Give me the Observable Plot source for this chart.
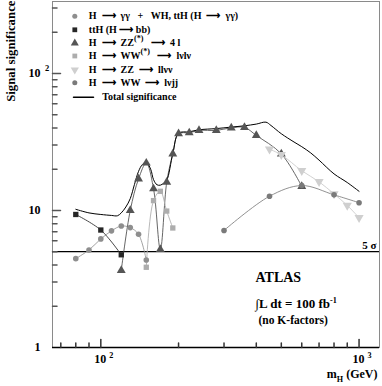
<!DOCTYPE html>
<html><head><meta charset="utf-8">
<script src="https://cdn.jsdelivr.net/npm/d3@7"></script>
<script src="https://cdn.jsdelivr.net/npm/@observablehq/plot@0.6"></script>
<style>body{margin:0;background:#fff} svg{font-family:"Liberation Serif","Times New Roman",serif;font-weight:bold} svg text{white-space:pre}</style>
</head><body><div id="chart"></div>
<script>
// ---- data (mass in GeV, signal significance) ----
const ggMass=[80,90,100,110,120,130,140,150];
const ggSig=[4.45,5.15,6.2,7.1,7.7,7.5,6.7,4.35];
const bbMass=[80,100,120];
const bbSig=[9.35,7.2,4.75];
const zz4lMass=[120,130,140,150,160,170,180,190,200,220,240,280,320,360,400,500,600];
const zz4lSig=[3.65,10,17,22.2,14.4,5.2,16.1,25.9,36.3,36.9,38.4,38.4,40.1,40.4,35.3,25.9,15];
const wwlvlvMass=[150,160,170,180,190];
const wwlvlvSig=[3.85,11.8,13.8,9.9,7.45];
const zzllvvMass=[450,500,600,700,800,900,1000];
const zzllvvSig=[28,25.5,19.5,16.2,13.2,10.9,8.85];
const wwlvjjMass=[300,450,600,800,1000];
const wwlvjjSig=[7.15,12.7,15.2,13,11.4];
const totalMass=[80,90,100,110,116,120,125,130,135,140,145,150,156,160,165,170,175,180,190,200,220,240,280,320,360,400,436,456,500,560,600,650,700,800,900,1000];
const totalSig=[10.2,9.6,9.35,9.2,9.15,9.6,10.6,12.2,15.5,19.3,21.7,22.5,20,16.8,15.4,15.3,15.8,16.6,26,36.6,37.5,38.8,39.6,40.6,41.5,42.7,44.1,41.7,36.3,31.6,29.2,26.3,23.3,18.5,16,13.8];

const seriesNames=["H  ⟶  γγ   +   WH, ttH (H  ⟶  γγ)","ttH (H ⟶ bb)","H  ⟶  ZZ^{(*)}   ⟶  4 l","H  ⟶  WW^{(*)}   ⟶  lνlν","H  ⟶  ZZ  ⟶  llνν","H  ⟶  WW  ⟶  lνjj"];
const totalName="Total significance";
const discoveryLevel=5;
const discoveryLabel="5 σ";
const atlasLabels=["ATLAS","∫L dt = 100 fb^{-1}","(no K-factors)"];
const xDomain=[65,1200];
const yDomain=[1,335];
const xMajor=[100,1000];
const xMajorLabels=["10 ^{2}","10 ^{3}"];
const xMinor=[70,80,90,200,300,400,500,600,700,800,900];
const yMajor=[1,10,100];
const yMajorLabels=["1","10","10"];
const ySuper=[{v:100,s:"2"}];
const yMinor=[2,3,4,5,6,7,8,9,20,30,40,50,60,70,80,90,200,300];
const xTitle="m_{H} (GeV)";
const yTitle="Signal significance";

// ---- styling ----
const triDown={draw(c,size){const y=-Math.sqrt(size/(Math.sqrt(3)*3));c.moveTo(0,-y*2);c.lineTo(-Math.sqrt(3)*y,y);c.lineTo(Math.sqrt(3)*y,y);c.closePath();}};
const tickShape={draw(c,l){c.moveTo(0,0);c.lineTo(0,-l);}};
const massArr=[ggMass,bbMass,zz4lMass,wwlvlvMass,zzllvvMass,wwlvjjMass];
const sigArr=[ggSig,bbSig,zz4lSig,wwlvlvSig,zzllvvSig,wwlvjjSig];
const symbols=["circle","square","triangle","square",triDown,"circle"];
const fills=["#8e8e8e","#262626","#555555","#adadad","#cfcfcf","#7a7a7a"];
const strokes=["#999999","#333333","#555555","#b0b0b0","#cccccc","#858585"];
const radii=[2.8,3.0,3.3,3.0,3.4,2.8];

const series=seriesNames.map((name,i)=>massArr[i].map((m,j)=>({name,mass:m,sig:sigArr[i][j]})));
const total=totalMass.map((m,j)=>({mass:m,sig:totalSig[j]}));

const marks=[
  Plot.frame({stroke:"#8a8a8a"}),
  Plot.ruleY([yDomain[0]],{stroke:"#000",strokeWidth:1.5}),
  Plot.ruleY([discoveryLevel],{stroke:"#000",strokeWidth:1.3}),
  Plot.vector(xMajor,{x:d=>d,frameAnchor:"bottom",length:8,anchor:"start",shape:tickShape,stroke:"#333"}),
  Plot.vector(xMinor,{x:d=>d,frameAnchor:"bottom",length:4.5,anchor:"start",shape:tickShape,stroke:"#333"}),
  Plot.vector(yMajor.slice(1),{y:d=>d,frameAnchor:"left",rotate:90,length:8,anchor:"start",shape:tickShape,stroke:"#555"}),
  Plot.vector(yMinor,{y:d=>d,frameAnchor:"left",rotate:90,length:4.5,anchor:"start",shape:tickShape,stroke:"#555"}),
];
series.forEach((s,i)=>{
  marks.push(Plot.line(s,{x:"mass",y:"sig",stroke:strokes[i],strokeWidth:0.9,curve:"catmull-rom"}));
});
marks.push(Plot.line(total,{x:"mass",y:"sig",stroke:"#000",strokeWidth:1,curve:"catmull-rom"}));
series.forEach((s,i)=>{
  marks.push(Plot.dot(s,{x:"mass",y:"sig",symbol:symbols[i],fill:fills[i],stroke:"none",r:radii[i]}));
});
// legend
const legendRows=[14.7,28.3,41.7,54.5,68.3,81.3,95.7];
seriesNames.forEach((name,i)=>{
  marks.push(Plot.dot([name],{frameAnchor:"top-left",dx:22.3,dy:legendRows[i],symbol:symbols[i],fill:fills[i],stroke:"none",r:radii[i]*0.9}));
  marks.push(Plot.text([name],{frameAnchor:"top-left",dx:36.3,dy:legendRows[i],text:d=>d,textAnchor:"start",lineAnchor:"middle",fontSize:10,fontWeight:"bold",fill:"#000"}));
});
marks.push(Plot.vector([totalName],{frameAnchor:"top-left",dx:21,dy:legendRows[6],rotate:90,length:20,anchor:"start",shape:tickShape,stroke:"#000"}));
marks.push(Plot.text([totalName],{frameAnchor:"top-left",dx:49.7,dy:legendRows[6],text:d=>d,textAnchor:"start",lineAnchor:"middle",fontSize:10,fontWeight:"bold"}));
// annotations
marks.push(Plot.text([discoveryLabel],{y:discoveryLevel,frameAnchor:"right",dx:-3,dy:-6,text:d=>d,textAnchor:"end",lineAnchor:"middle",fontSize:11,fontWeight:"bold"}));
marks.push(Plot.text([atlasLabels[0]],{frameAnchor:"top-left",dx:203,dy:276.5,text:d=>d,textAnchor:"start",lineAnchor:"middle",fontSize:14,fontWeight:"bold"}));
marks.push(Plot.text([atlasLabels[1]],{frameAnchor:"top-left",dx:203,dy:302,text:d=>d,textAnchor:"start",lineAnchor:"middle",fontSize:13,fontWeight:"bold"}));
marks.push(Plot.text([atlasLabels[2]],{frameAnchor:"top-left",dx:206,dy:319,text:d=>d,textAnchor:"start",lineAnchor:"middle",fontSize:11.5,fontWeight:"bold"}));
// axis labels
marks.push(Plot.text(xMajor,{x:d=>d,frameAnchor:"bottom",dy:12,text:(d,i)=>xMajorLabels[i],textAnchor:"middle",lineAnchor:"middle",fontSize:12,fontWeight:"bold",dx:3}));
marks.push(Plot.text(yMajor,{y:d=>d,frameAnchor:"left",dx:-12,text:(d,i)=>yMajorLabels[i],textAnchor:"end",lineAnchor:"middle",fontSize:12,fontWeight:"bold"}));
marks.push(Plot.text(ySuper,{y:"v",frameAnchor:"left",dx:-7.5,dy:-5,text:"s",textAnchor:"start",lineAnchor:"middle",fontSize:8.5,fontWeight:"bold"}));
marks.push(Plot.text([xTitle],{frameAnchor:"bottom-right",dx:-2,dy:27,text:d=>d,textAnchor:"end",lineAnchor:"middle",fontSize:12,fontWeight:"bold"}));
marks.push(Plot.text([yTitle],{frameAnchor:"top-left",dx:-42,dy:-1,rotate:-90,text:d=>d,textAnchor:"end",lineAnchor:"middle",fontSize:12.8,fontWeight:"bold"}));

const chart=Plot.plot({
  width:382,height:386,marginLeft:52,marginRight:3,marginTop:1,marginBottom:39,
  x:{type:"log",domain:xDomain,axis:null},
  y:{type:"log",domain:yDomain,axis:null},
  style:{fontFamily:'"Liberation Serif","Times New Roman",serif',background:"#fff",color:"#000",overflow:"visible"},
  marks
});

// rich text: ^{..} superscript, _{..} subscript
function richify(svg){
  svg.querySelectorAll("text").forEach(t=>{
    const s=t.textContent;
    if(!/[\^_]\{/.test(s)) return;
    const fs=parseFloat(getComputedStyle(t).fontSize)||12;
    while(t.firstChild) t.removeChild(t.firstChild);
    let shift=0;
    s.split(/([\^_]\{[^}]*\})/).forEach(p=>{
      if(!p) return;
      const ts=document.createElementNS("http://www.w3.org/2000/svg","tspan");
      let target=0,txt=p,small=false;
      if(p.startsWith("^{")){target=-0.42;txt=p.slice(2,-1);small=true;}
      else if(p.startsWith("_{")){target=0.28;txt=p.slice(2,-1);small=true;}
      if(target!==shift) ts.setAttribute("dy",((target-shift)*fs).toFixed(2)+"px");
      shift=target;
      if(small) ts.setAttribute("font-size",(fs*0.68).toFixed(2)+"px");
      ts.textContent=txt;
      t.appendChild(ts);
    });
  });
}
richify(chart);
document.getElementById("chart").appendChild(chart);
</script></body></html>
